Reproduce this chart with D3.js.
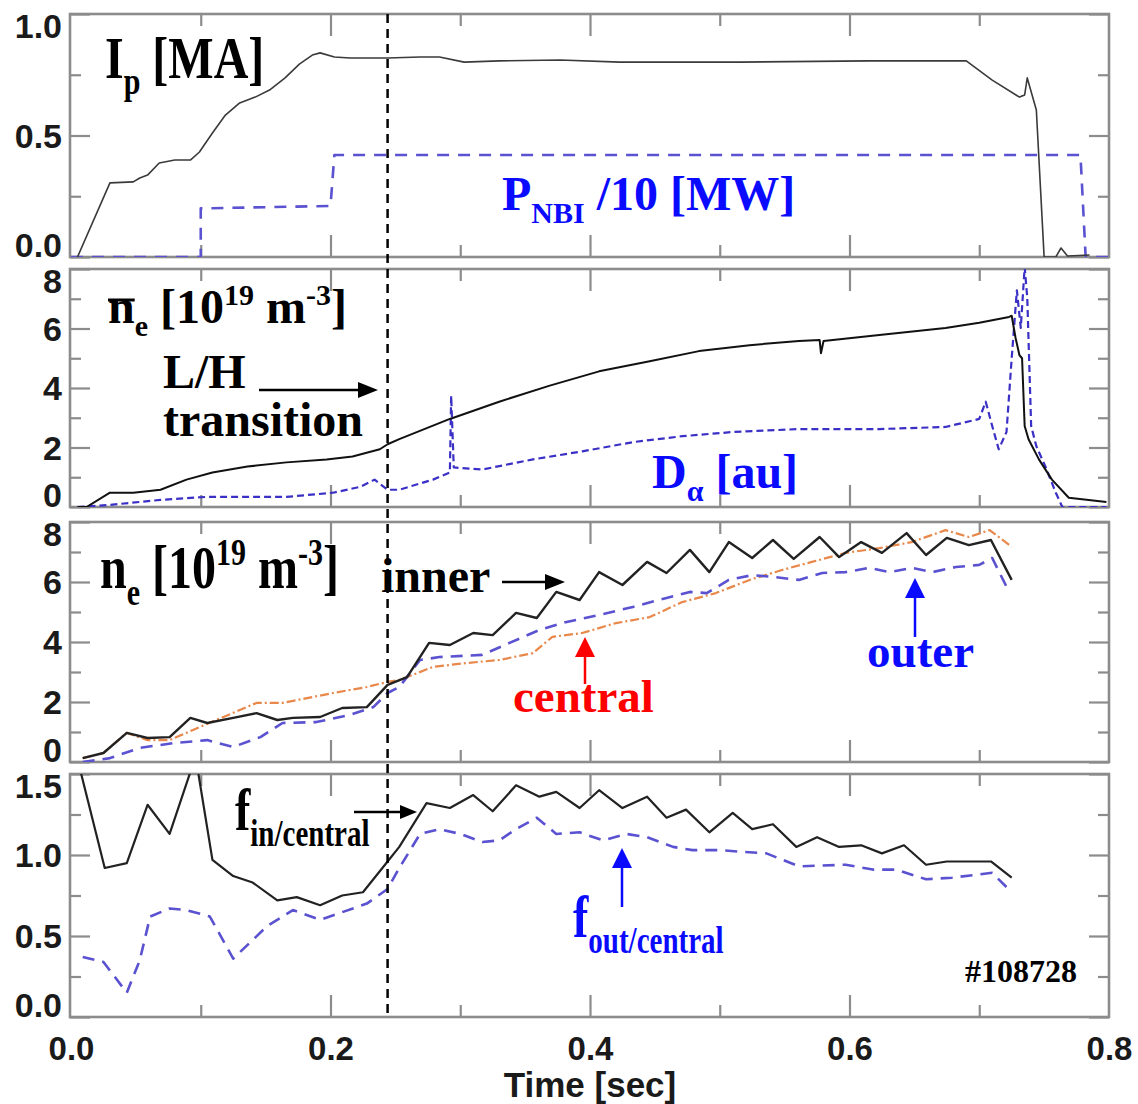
<!DOCTYPE html>
<html>
<head>
<meta charset="utf-8">
<script src="https://cdn.jsdelivr.net/npm/d3@7"></script>
<style>
  body { margin: 0; background: #fff; }
  svg { display: block; }
</style>
</head>
<body>
<script>
// shot #108728 time traces

// panel 1: plasma current and beam power
const ipData = [[0.005,0],[0.030,0.305],[0.048,0.309],[0.053,0.325],[0.059,0.337],[0.068,0.387],[0.080,0.399],
  [0.092,0.399],[0.099,0.432],[0.109,0.510],[0.119,0.584],[0.130,0.634],[0.142,0.658],[0.153,0.687],[0.165,0.737],
  [0.176,0.794],[0.186,0.831],[0.192,0.840],[0.203,0.823],[0.215,0.819],[0.244,0.819],[0.269,0.823],[0.284,0.823],
  [0.303,0.802],[0.330,0.807],[0.377,0.811],[0.423,0.802],[0.484,0.802],[0.515,0.802],[0.615,0.807],[0.690,0.807],
  [0.710,0.728],[0.731,0.658],[0.735,0.667],[0.737,0.737],[0.744,0.605],[0.750,0],[0.759,0],[0.763,0.037],
  [0.768,0.004],[0.785,0.008]];
const pnbiData = [[0,0],[0.1,0],[0.1,0.2],[0.2,0.21],[0.203,0.42],[0.778,0.42],[0.782,0],[0.8,0]];

// panel 2: line averaged density and D-alpha
const nebarData = [[0.005,0],[0.012,0],[0.030,0.48],[0.048,0.48],[0.069,0.58],[0.089,0.92],[0.109,1.16],
  [0.136,1.36],[0.166,1.50],[0.197,1.60],[0.217,1.70],[0.238,1.94],[0.244,2.11],[0.253,2.28],[0.292,2.96],
  [0.330,3.54],[0.369,4.08],[0.407,4.56],[0.446,4.90],[0.484,5.24],[0.523,5.44],[0.561,5.58],[0.577,5.61],
  [0.578,5.17],[0.580,5.58],[0.623,5.78],[0.674,6.02],[0.700,6.19],[0.723,6.39],[0.725,6.43],[0.728,5.68],
  [0.731,5.10],[0.733,5.0],[0.735,2.72],[0.738,2.28],[0.746,1.60],[0.756,0.92],[0.769,0.31],[0.798,0.17]];
const dalphaData = [[0.005,0],[0.030,0.07],[0.069,0.24],[0.105,0.34],[0.166,0.34],[0.202,0.48],[0.223,0.68],
  [0.234,0.92],[0.244,0.58],[0.253,0.58],[0.279,0.92],[0.292,1.16],[0.293,3.74],[0.295,1.33],[0.317,1.26],
  [0.356,1.60],[0.394,1.87],[0.433,2.18],[0.471,2.38],[0.510,2.52],[0.561,2.62],[0.623,2.62],[0.674,2.69],
  [0.700,2.96],[0.705,3.54],[0.710,2.72],[0.715,1.94],[0.721,2.52],[0.725,5.0],[0.729,7.28],[0.732,6.02],
  [0.735,8.06],[0.737,7.04],[0.740,2.72],[0.744,2.04],[0.751,1.36],[0.759,0.48],[0.764,0],[0.798,0]];

// panel 3: local densities
const innerData = [[0.009,0.13],[0.025,0.30],[0.043,0.97],[0.059,0.80],[0.076,0.83],[0.092,1.47],[0.105,1.30],
  [0.125,1.47],[0.143,1.63],[0.159,1.40],[0.171,1.47],[0.192,1.50],[0.209,1.80],[0.228,1.83],[0.244,2.57],
  [0.259,2.83],[0.276,3.97],[0.292,3.90],[0.310,4.30],[0.325,4.23],[0.343,4.97],[0.359,4.80],[0.374,5.67],
  [0.392,5.40],[0.407,6.33],[0.425,5.90],[0.444,6.67],[0.459,6.30],[0.477,7.07],[0.492,6.33],[0.507,7.33],
  [0.525,6.80],[0.541,7.40],[0.557,6.77],[0.577,7.50],[0.592,6.83],[0.609,7.33],[0.625,6.97],[0.644,7.63],
  [0.659,6.90],[0.675,7.47],[0.692,7.23],[0.709,7.40],[0.725,6.07]];
const outerData = [[0.009,0],[0.030,0.13],[0.053,0.47],[0.079,0.63],[0.105,0.73],[0.125,0.50],[0.146,0.83],
  [0.163,1.30],[0.189,1.33],[0.215,1.57],[0.233,1.83],[0.244,2.30],[0.253,2.50],[0.269,3.40],[0.284,3.50],
  [0.317,3.57],[0.338,3.97],[0.361,4.40],[0.382,4.67],[0.407,4.90],[0.433,5.17],[0.459,5.47],[0.477,5.67],
  [0.490,5.63],[0.507,6.07],[0.525,6.23],[0.541,6.17],[0.561,6.07],[0.579,6.30],[0.597,6.33],[0.615,6.47],
  [0.631,6.33],[0.648,6.47],[0.664,6.33],[0.682,6.50],[0.700,6.57],[0.710,6.80],[0.723,5.67]];
const centralData = [[0.009,0.13],[0.025,0.30],[0.043,0.97],[0.059,0.73],[0.076,0.73],[0.094,1.07],[0.112,1.40],
  [0.143,1.97],[0.163,1.97],[0.202,2.30],[0.228,2.50],[0.244,2.67],[0.253,2.73],[0.279,3.17],[0.305,3.30],
  [0.330,3.40],[0.356,3.63],[0.371,4.17],[0.394,4.30],[0.420,4.63],[0.446,4.83],[0.471,5.33],[0.497,5.63],
  [0.523,6.07],[0.548,6.40],[0.571,6.67],[0.597,6.97],[0.623,7.13],[0.648,7.33],[0.674,7.73],[0.692,7.50],
  [0.708,7.73],[0.725,7.17]];

// panel 4: peaking factors
const finData = [[0.006,1.56],[0.026,0.92],[0.043,0.95],[0.059,1.31],[0.076,1.13],[0.094,1.56],[0.097,1.56],
  [0.109,0.97],[0.125,0.87],[0.140,0.83],[0.159,0.72],[0.174,0.74],[0.192,0.69],[0.209,0.75],[0.225,0.77],
  [0.244,0.96],[0.253,1.05],[0.274,1.32],[0.292,1.29],[0.310,1.37],[0.325,1.27],[0.343,1.43],[0.361,1.36],
  [0.374,1.39],[0.392,1.29],[0.407,1.40],[0.425,1.29],[0.444,1.36],[0.459,1.23],[0.474,1.28],[0.492,1.14],
  [0.510,1.26],[0.525,1.16],[0.541,1.19],[0.559,1.05],[0.575,1.11],[0.592,1.05],[0.609,1.06],[0.625,1.01],
  [0.642,1.06],[0.659,0.94],[0.675,0.96],[0.709,0.96],[0.725,0.86]];
const foutData = [[0.009,0.37],[0.025,0.34],[0.043,0.15],[0.053,0.35],[0.061,0.62],[0.076,0.67],[0.089,0.66],
  [0.107,0.62],[0.125,0.36],[0.151,0.56],[0.171,0.66],[0.192,0.60],[0.228,0.70],[0.244,0.79],[0.253,0.92],
  [0.269,1.13],[0.284,1.16],[0.300,1.13],[0.317,1.08],[0.330,1.09],[0.343,1.16],[0.359,1.23],[0.374,1.13],
  [0.392,1.14],[0.410,1.09],[0.428,1.13],[0.444,1.11],[0.464,1.05],[0.479,1.03],[0.500,1.03],[0.517,1.02],
  [0.536,1.01],[0.561,0.93],[0.597,0.94],[0.618,0.91],[0.636,0.91],[0.659,0.85],[0.679,0.86],[0.700,0.88],
  [0.710,0.89],[0.725,0.77]];

const lhTime = 0.244;
const xTicks = [0, 0.2, 0.4, 0.6, 0.8];
const xMinor = [0.1, 0.3, 0.5, 0.7];

const SERIF = "'Liberation Serif','Times New Roman',serif";
const SANS = "'Liberation Sans',Arial,Helvetica,sans-serif";
const BLUE_TXT = "#0a0aff", LINE_BLUE = "#5a52d0", FRAME = "#8c8c8c";

const W = 1138, H = 1104;
const svg = d3.select("body").append("svg").attr("width", W).attr("height", H);

const x = d3.scaleLinear().domain([0, 0.8]).range([71, 1109]);
const left = 70, right = 1109;

const panels = [
  {top: 14, bottom: 257, dom: [0, 1], major: [0, 0.5, 1], minor: [0.25, 0.75], fmt: d3.format(".1f")},
  {top: 269, bottom: 507, dom: [0, 8], major: [0, 2, 4, 6, 8], minor: [1, 3, 5, 7], fmt: d3.format("d")},
  {top: 522, bottom: 762, dom: [0, 8], major: [0, 2, 4, 6, 8], minor: [1, 3, 5, 7], fmt: d3.format("d")},
  {top: 774, bottom: 1017, dom: [0, 1.5], major: [0, 0.5, 1, 1.5], minor: [0.25, 0.75, 1.25], fmt: d3.format(".1f")}
];

panels.forEach((p, i) => {
  p.y = d3.scaleLinear().domain(p.dom).range([p.bottom, p.top]);
  const g = svg.append("g");
  p.g = g;

  svg.append("clipPath").attr("id", "clip" + i)
    .append("rect").attr("x", left).attr("y", p.top).attr("width", right - left).attr("height", p.bottom - p.top);

  // inward ticks on all four sides
  const tickStyle = sel => {
    sel.select(".domain").remove();
    sel.selectAll("line").attr("stroke", FRAME).attr("stroke-width", 2.2);
    sel.selectAll("text").remove();
  };
  [[xTicks.slice(1, 4), 22], [xMinor, 12]].forEach(([vals, len]) => {
    g.append("g").attr("transform", `translate(0,${p.top})`)
      .call(d3.axisBottom(x).tickValues(vals).tickSize(len)).call(tickStyle);
    g.append("g").attr("transform", `translate(0,${p.bottom})`)
      .call(d3.axisTop(x).tickValues(vals).tickSize(len)).call(tickStyle);
  });
  [[p.major, 20], [p.minor, 11]].forEach(([vals, len]) => {
    g.append("g").attr("transform", `translate(${left},0)`)
      .call(d3.axisRight(p.y).tickValues(vals).tickSize(len)).call(tickStyle);
    g.append("g").attr("transform", `translate(${right},0)`)
      .call(d3.axisLeft(p.y).tickValues(vals).tickSize(len)).call(tickStyle);
  });

  g.append("rect").attr("x", left).attr("y", p.top)
    .attr("width", right - left).attr("height", p.bottom - p.top)
    .attr("fill", "none").attr("stroke", FRAME).attr("stroke-width", 2.6);

  // y labels, end labels kept inside the panel
  g.selectAll("text.ylab").data(p.major).join("text")
    .attr("class", "ylab")
    .attr("x", 62)
    .attr("y", d => Math.min(p.bottom - 12, Math.max(p.top + 12, p.y(d))))
    .attr("dy", "0.36em")
    .attr("text-anchor", "end")
    .attr("font-family", SANS).attr("font-weight", "bold").attr("font-size", 34)
    .attr("fill", "#1a1a1a")
    .text(p.fmt);
});

function trace(pi, data, color, width, dash) {
  const p = panels[pi];
  const line = d3.line().x(d => x(d[0])).y(d => p.y(d[1]));
  p.g.append("path").datum(data)
    .attr("clip-path", `url(#clip${pi})`)
    .attr("d", line)
    .attr("fill", "none")
    .attr("stroke", color)
    .attr("stroke-width", width)
    .attr("stroke-linejoin", "round")
    .attr("stroke-dasharray", dash || null);
}

trace(0, pnbiData, LINE_BLUE, 2.6, "12,9");
trace(0, ipData, "#3a3a3a", 1.6);
trace(1, dalphaData, "#3b30c6", 2.2, "7,4");
trace(1, nebarData, "#111", 2);
trace(2, centralData, "#e8884a", 2.2, "9,3,2,3");
trace(2, outerData, LINE_BLUE, 2.6, "12,8");
trace(2, innerData, "#222", 2.4);
trace(3, foutData, LINE_BLUE, 2.6, "12,8");
trace(3, finData, "#222", 2.2);

// L/H transition marker across all panels
svg.append("line")
  .attr("x1", x(lhTime)).attr("x2", x(lhTime))
  .attr("y1", panels[0].top).attr("y2", panels[3].bottom)
  .attr("stroke", "#000").attr("stroke-width", 2.5).attr("stroke-dasharray", "9,6");

// x axis labels
svg.append("g").attr("transform", `translate(0,${panels[3].bottom})`)
  .call(d3.axisBottom(x).tickValues(xTicks).tickSize(0).tickPadding(20).tickFormat(d3.format(".1f")))
  .call(g => {
    g.select(".domain").remove();
    g.selectAll("text").attr("font-family", SANS).attr("font-weight", "bold")
      .attr("font-size", 33).attr("fill", "#1a1a1a");
  });
svg.append("text").attr("x", 590).attr("y", 1097).attr("text-anchor", "middle")
  .attr("font-family", SANS).attr("font-weight", "bold").attr("font-size", 35).attr("fill", "#1a1a1a")
  .text("Time [sec]");

// rich labels with sub/superscripts
function rich(x0, y0, parts, size, color, sy) {
  const g = svg.append("g").attr("transform", `translate(${x0},${y0}) scale(1,${sy || 1})`);
  const t = g.append("text").style("white-space", "pre")
    .attr("font-family", SERIF).attr("font-weight", "bold")
    .attr("font-size", size).attr("fill", color);
  let cur = 0;
  parts.forEach(pt => {
    const off = pt.sub ? size * 0.27 : pt.sup ? -size * 0.38 : 0;
    t.append("tspan").attr("dy", off - cur)
      .attr("font-size", (pt.sub || pt.sup) ? Math.round(size * 0.62) : size)
      .text(pt.t);
    cur = off;
  });
  return t;
}

function arrow(x1, y1, x2, y2, color, head, half) {
  const a = Math.atan2(y2 - y1, x2 - x1);
  const bx = x2 - head * Math.cos(a), by = y2 - head * Math.sin(a);
  svg.append("line").attr("x1", x1).attr("y1", y1).attr("x2", bx).attr("y2", by)
    .attr("stroke", color).attr("stroke-width", 2.5);
  const px = -Math.sin(a) * half, py = Math.cos(a) * half;
  svg.append("path")
    .attr("d", `M${x2},${y2}L${bx + px},${by + py}L${bx - px},${by - py}Z`)
    .attr("fill", color);
}

rich(105, 78, [{t: "I"}, {t: "p", sub: true}, {t: " [MA]"}], 48, "#000", 1.25);
rich(502, 210, [{t: "P"}, {t: "NBI", sub: true}, {t: " /10 [MW]"}], 48, BLUE_TXT);

const nbar = rich(108, 323, [{t: "n"}, {t: "e", sub: true}, {t: " [10"}, {t: "19", sup: true}, {t: " m"}, {t: "-3", sup: true}, {t: "]"}], 48, "#000");
const nw = nbar.select("tspan").node().getComputedTextLength();
svg.append("line").attr("x1", 108).attr("x2", 108 + nw).attr("y1", 300).attr("y2", 300)
  .attr("stroke", "#000").attr("stroke-width", 3);

rich(163, 388, [{t: "L/H"}], 48, "#000");
rich(163, 436, [{t: "transition"}], 48, "#000");
arrow(259, 390, 378, 390, "#000", 20, 8);
rich(652, 488, [{t: "D"}, {t: "α", sub: true}, {t: " [au]"}], 48, BLUE_TXT);

rich(100, 588, [{t: "n"}, {t: "e", sub: true}, {t: " [10"}, {t: "19", sup: true}, {t: " m"}, {t: "-3", sup: true}, {t: "]"}], 48, "#000", 1.28);
rich(381, 592, [{t: "inner"}], 48, "#000");
arrow(502, 582, 565, 582, "#000", 20, 8);
rich(513, 712, [{t: "central"}], 47, "#ff0000");
arrow(585, 684, 585, 637, "#ff0000", 20, 10);
rich(867, 667, [{t: "outer"}], 47, BLUE_TXT);
arrow(915, 637, 915, 578, BLUE_TXT, 20, 10);

rich(235, 830, [{t: "f"}, {t: "in/central", sub: true}], 46, "#000", 1.3);
arrow(354, 812, 417, 812, "#000", 17, 7);
rich(573, 937, [{t: "f"}, {t: "out/central", sub: true}], 46, BLUE_TXT, 1.3);
arrow(622, 907, 622, 848, BLUE_TXT, 20, 10);
rich(965, 982, [{t: "#108728"}], 32, "#000");
</script>
</body>
</html>
